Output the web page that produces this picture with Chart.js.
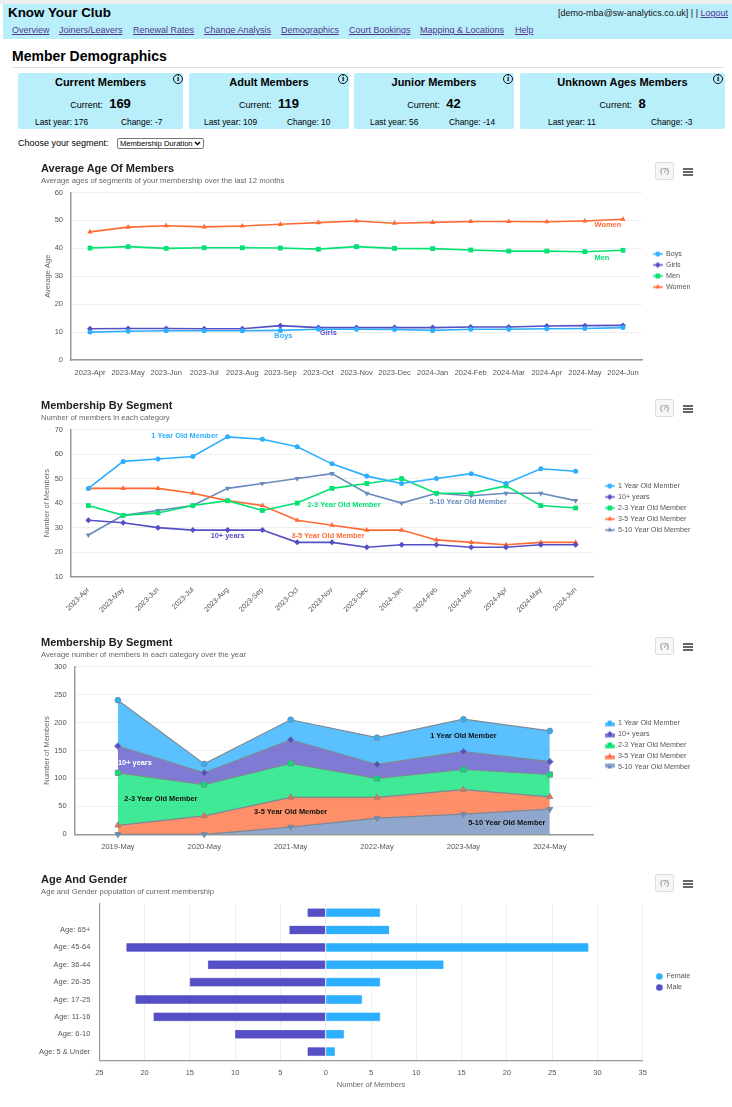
<!DOCTYPE html>
<html>
<head>
<meta charset="utf-8">
<title>Know Your Club</title>
<script src="https://cdn.jsdelivr.net/npm/chart.js@4/dist/chart.umd.js"></script>
<style>
  html, body { margin: 0; padding: 0; background: #fff; }
  body { position: relative; width: 732px; height: 1107px; overflow: hidden; font-family: "Liberation Sans", Arial, sans-serif; color: #000; }
  .abs { position: absolute; white-space: nowrap; line-height: 1; }
  .strip { position: absolute; left: 0; top: 0; width: 732px; height: 4px; background: #eeeeee; }
  .header { position: absolute; left: 3px; top: 4px; width: 729px; height: 35px; background: #b9eefb; }
  .nav { font-size: 9px; color: #52388f; text-decoration: underline; }
  .rule { position: absolute; left: 12px; top: 67px; width: 712px; height: 1px; background: #ddd; }
  .card { position: absolute; top: 73px; height: 56px; background: #b9eefb; border-radius: 2px; }
  .cardTitle { font-size: 11px; font-weight: bold; left: 0; right: 0; text-align: center; top: 4px; }
  .cardCur { font-size: 9px; left: 0; right: 0; text-align: center; top: 24px; }
  .cardCur b { font-size: 13px; margin-left: 4px; }
  .cardSmall { font-size: 8.4px; top: 45px; }
  .info { width: 8px; height: 8px; border: 1.2px solid #111; border-radius: 50%; font: bold 8px/8px "Liberation Serif", serif; text-align: center; }
  .chartTitle { font-size: 11px; font-weight: bold; color: #222; left: 41px; }
  .chartSub { font-size: 7.7px; color: #666; left: 41px; }
  .help { position: absolute; left: 655px; width: 17px; height: 16px; border: 1px solid #ddd; background: #f7f7f7; border-radius: 2px; font-size: 7.5px; line-height: 16px; text-align: center; color: #666; }
  .burger { position: absolute; left: 683px; width: 10px; height: 1.5px; background: #666; box-shadow: 0 3px 0 #666, 0 6px 0 #666; }
  .segment { left: 117px; top: 138px; width: 87px; height: 11px; box-sizing: border-box; font: 7.6px "Liberation Sans"; padding: 0 0 0 2px; border: 1px solid #777; border-radius: 2px; appearance: none; -webkit-appearance: none; background: #fff url("data:image/svg+xml,%3Csvg xmlns='http://www.w3.org/2000/svg' width='7' height='5'%3E%3Cpath d='M1 1l2.5 2.5L6 1' fill='none' stroke='%23000' stroke-width='1.4'/%3E%3C/svg%3E") no-repeat right 2px center; }
  canvas { position: absolute; }
</style>
</head>
<body>
<div class="strip"></div>
<div class="header"></div>
<div class="abs" style="left:8px;top:6px;font-size:13.4px;font-weight:bold">Know Your Club</div>
<div class="abs" style="right:4px;top:9px;font-size:9px;color:#111">[demo-mba@sw-analytics.co.uk] | | <span class="nav">Logout</span></div>
<div class="abs" style="left:12px;top:49px;font-size:14px;font-weight:bold">Member Demographics</div>
<div class="rule"></div>
<div class="abs" style="left:18px;top:139px;font-size:9px">Choose your segment:</div>
<select class="abs segment"><option>Membership Duration</option></select>

<canvas id="ageChart"></canvas>
<canvas id="segmentChart"></canvas>
<canvas id="yearChart"></canvas>
<canvas id="genderChart"></canvas>

<script>
// الألوان
const BLUE = '#2caffe', PURPLE = '#544fc5', GREEN = '#00e272', ORANGE = '#fe6a35', SLATE = '#6b8abc';

// بيانات متوسط العمر
const ageMonths = ['2023-Apr','2023-May','2023-Jun','2023-Jul','2023-Aug','2023-Sep','2023-Oct','2023-Nov','2023-Dec','2024-Jan','2024-Feb','2024-Mar','2024-Apr','2024-May','2024-Jun'];
const boysAge = [10, 10.3, 10.5, 10.5, 10.5, 10.6, 11, 11, 10.9, 10.6, 11, 11, 11.2, 11.3, 11.6];
const girlsAge = [11.2, 11.3, 11.3, 11.2, 11.2, 12.3, 11.6, 11.6, 11.6, 11.6, 11.8, 11.8, 12.2, 12.3, 12.4];
const menAge = [40.1, 40.6, 40, 40.2, 40.2, 40.1, 39.7, 40.6, 40, 39.9, 39.4, 39, 39, 38.8, 39.3];
const womenAge = [45.9, 47.6, 48.1, 47.7, 48, 48.6, 49.2, 49.8, 49, 49.3, 49.6, 49.6, 49.5, 49.8, 50.4];

// بيانات الأعضاء حسب الشريحة
const oneYear = [46, 57, 58, 59, 67, 66, 63, 56, 51, 48, 50, 52, 48, 54, 53];
const tenPlus = [33, 32, 30, 29, 29, 29, 24, 24, 22, 23, 23, 22, 22, 23, 23];
const twoToThree = [39, 35, 36, 39, 41, 37, 40, 46, 48, 50, 44, 44, 47, 39, 38];
const threeToFive = [46, 46, 46, 44, 41, 39, 33, 31, 29, 29, 25, 24, 23, 24, 24];
const fiveToTen = [27, 35, 37, 39, 46, 48, 50, 52, 44, 40, 44, 43, 44, 44, 41];

// بيانات المتوسط السنوي
const years = ['2019-May','2020-May','2021-May','2022-May','2023-May','2024-May'];
const oneYearAvg = [82, 16, 36, 48, 58, 55];
const tenPlusAvg = [48, 21, 42, 25, 32, 23];
const twoToThreeAvg = [94, 56, 61, 34, 36, 40];
const threeToFiveAvg = [16, 33, 53, 37, 44, 22];
const fiveToTenAvg = [0, 0, 13, 29, 36, 45];

// بيانات العمر والجنس
const ageGroups = ['', 'Age: 65+', 'Age: 45-64', 'Age: 36-44', 'Age: 26-35', 'Age: 17-25', 'Age: 11-16', 'Age: 6-10', 'Age: 5 & Under'];
const femaleCounts = [6, 7, 29, 13, 6, 4, 6, 2, 1];
const maleCounts = [-2, -4, -22, -13, -15, -21, -19, -10, -2];

// البطاقات
const cards = [
  { title: 'Current Members', cur: 169, last: 'Last year: 176', change: 'Change: -7', x: 18, w: 165, lastX: 17, changeX: 103, infoX: 155 },
  { title: 'Adult Members', cur: 119, last: 'Last year: 109', change: 'Change: 10', x: 189, w: 160, lastX: 15, changeX: 98, infoX: 149 },
  { title: 'Junior Members', cur: 42, last: 'Last year: 56', change: 'Change: -14', x: 354, w: 160, lastX: 16, changeX: 95, infoX: 149 },
  { title: 'Unknown Ages Members', cur: 8, last: 'Last year: 11', change: 'Change: -3', x: 520, w: 205, lastX: 28, changeX: 131, infoX: 193 }
];
cards.forEach(c => {
  const d = document.createElement('div');
  d.className = 'card';
  d.style.left = c.x + 'px';
  d.style.width = c.w + 'px';
  d.innerHTML = `<div class="abs cardTitle">${c.title}</div>
    <div class="abs cardCur">Current: <b>${c.cur}</b></div>
    <div class="abs cardSmall" style="left:${c.lastX}px">${c.last}</div>
    <div class="abs cardSmall" style="left:${c.changeX}px">${c.change}</div>
    <div class="abs info" style="left:${c.infoX}px;top:1px">i</div>`;
  document.body.appendChild(d);
});

// روابط القائمة
const navLinks = [['Overview', 12], ['Joiners/Leavers', 59], ['Renewal Rates', 133], ['Change Analysis', 204], ['Demographics', 281], ['Court Bookings', 349], ['Mapping & Locations', 420], ['Help', 515]];
navLinks.forEach(n => {
  const a = document.createElement('div');
  a.className = 'abs nav';
  a.style.left = n[1] + 'px';
  a.style.top = '26px';
  a.textContent = n[0];
  document.body.appendChild(a);
});

// عناوين المخططات والأزرار
function addHead(title, sub, titleY, helpY) {
  const t = document.createElement('div');
  t.className = 'abs chartTitle';
  t.style.top = (titleY - 5) + 'px';
  t.textContent = title;
  const s = document.createElement('div');
  s.className = 'abs chartSub';
  s.style.top = (titleY + 9) + 'px';
  s.textContent = sub;
  const h = document.createElement('div');
  h.className = 'help';
  h.style.top = helpY + 'px';
  h.textContent = '(?)';
  const b = document.createElement('div');
  b.className = 'burger';
  b.style.top = (helpY + 6) + 'px';
  [t, s, h, b].forEach(el => document.body.appendChild(el));
}
addHead('Average Age Of Members', 'Average ages of segments of your membership over the last 12 months', 168, 162);
addHead('Membership By Segment', 'Number of members in each category', 405, 399);
addHead('Membership By Segment', 'Average number of members in each category over the year', 642, 637);
addHead('Age And Gender', 'Age and Gender population of current membership', 879, 874);

// حجم العلامة حسب شكلها
function markerSize(style) {
  return { circle: 2.5, rectRot: 3, rect: 3.4, triangle: 3.1 }[style];
}

// أيقونة وسيلة الإيضاح
function legendIcon(color, style, rotation, area) {
  const c = document.createElement('canvas');
  c.width = 10;
  c.height = 9;
  const ctx = c.getContext('2d');
  if (area) {
    ctx.globalAlpha = 0.75;
    ctx.fillStyle = color;
    ctx.fillRect(0, 4, 10, 4);
    ctx.globalAlpha = 1;
  } else {
    ctx.strokeStyle = color;
    ctx.lineWidth = 1.4;
    ctx.beginPath();
    ctx.moveTo(0, 4.5);
    ctx.lineTo(10, 4.5);
    ctx.stroke();
  }
  ctx.fillStyle = color;
  ctx.strokeStyle = color;
  Chart.helpers.drawPoint(ctx, { pointStyle: style, radius: markerSize(style), borderWidth: 0, rotation: rotation || 0 }, 5, 4.5);
  return c;
}

// كتابة التسميات فوق السلاسل
const seriesLabels = {
  id: 'seriesLabels',
  afterDatasetsDraw(chart, args, opts) {
    const ctx = chart.ctx;
    ctx.save();
    ctx.font = 'bold 7.4px "Liberation Sans"';
    ctx.textAlign = 'center';
    ctx.textBaseline = 'middle';
    (opts.items || []).forEach(it => {
      const p = chart.getDatasetMeta(it.ds).data[it.i];
      ctx.fillStyle = it.color;
      ctx.fillText(it.text, p.x + it.dx, p.y + it.dy);
    });
    ctx.restore();
  }
};

// تثبيت عرض وسيلة الإيضاح وموضعها حتى تبقى منطقة الرسم في مكانها
const fixedLegend = {
  id: 'fixedLegend',
  beforeLayout(chart, args, opts) {
    const legend = chart.legend;
    if (!legend || legend._fixed) return;
    const fit = legend.fit.bind(legend);
    legend.fit = () => { fit(); legend.width = opts.width; };
    legend._fixed = true;
  },
  afterLayout(chart, args, opts) {
    const legend = chart.legend;
    legend.left += opts.dx;
    legend.right += opts.dx;
    legend.top -= opts.up;
    legend.bottom -= opts.up;
  }
};

const tickFont = { family: 'Liberation Sans', size: 7.5 };
const slantFont = { family: 'Liberation Sans', size: 7.2 };
const legendFont = { family: 'Liberation Sans', size: 7.2 };
const gridColor = '#efefef';
const axisColor = '#999999';

// إعدادات مشتركة: box هو موضع اللوحة و plot هو موضع منطقة الرسم في الصفحة
function baseOptions(box, plot, legendIcons, pointWidth, legendX, reverse) {
  const padTop = plot.top - box.top;
  return {
    responsive: false,
    animation: false,
    devicePixelRatio: 1,
    layout: { autoPadding: false, padding: { top: padTop, left: 0, right: 0, bottom: 0 } },
    plugins: {
      tooltip: { enabled: false },
      title: { display: false },
      fixedLegend: { width: box.left + box.width - plot.right, dx: legendX - plot.right - 3.5, up: padTop / 2 },
      legend: {
        position: 'right',
        reverse: !!reverse,
        labels: {
          usePointStyle: true,
          pointStyleWidth: pointWidth,
          font: legendFont,
          color: '#555',
          padding: 3.8,
          generateLabels(chart) {
            const items = Chart.defaults.plugins.legend.labels.generateLabels(chart);
            items.forEach((item, i) => { item.pointStyle = legendIcons[i]; });
            return items;
          }
        }
      }
    }
  };
}

function place(id, box) {
  const el = document.getElementById(id);
  el.style.left = box.left + 'px';
  el.style.top = box.top + 'px';
  el.width = box.width;
  el.height = box.height;
  return el;
}

function lineSet(label, data, color, style, rotation) {
  return { label, data, borderColor: color, backgroundColor: color, pointStyle: style, pointRotation: rotation || 0, pointRadius: markerSize(style), pointBorderWidth: 0, borderWidth: 1.6, tension: 0, clip: false };
}

function xAxis(box, plot, rotation, pad) {
  return {
    type: 'category',
    offset: true,
    afterFit(s) { s.height = box.top + box.height - plot.bottom; },
    grid: { display: false },
    border: { color: axisColor, width: 1.5 },
    ticks: { font: rotation ? slantFont : tickFont, color: '#555', padding: pad, autoSkip: false, minRotation: rotation, maxRotation: rotation }
  };
}

function yAxis(box, plot, min, max, step, title, titleX) {
  return {
    min, max,
    afterFit(s) { s.width = plot.left - box.left; },
    grid: { color: gridColor, drawTicks: false },
    border: { color: axisColor, width: 1.5 },
    ticks: { font: tickFont, color: '#555', stepSize: step, padding: 8 },
    title: { display: true, text: title, font: tickFont, color: '#666', padding: { top: titleX - box.left - 3.5, bottom: 0 } }
  };
}

// مخطط متوسط العمر
const ageBox = { left: 30, top: 155, width: 670, height: 231 };
const agePlot = { left: 71, top: 192.5, right: 642, bottom: 360 };
const ageIcons = [legendIcon(BLUE, 'circle'), legendIcon(PURPLE, 'rectRot'), legendIcon(GREEN, 'rect'), legendIcon(ORANGE, 'triangle')];
const ageOptions = baseOptions(ageBox, agePlot, ageIcons, 9, 653);
ageOptions.scales = { x: xAxis(ageBox, agePlot, 0, 0), y: yAxis(ageBox, agePlot, 0, 60, 10, 'Average Age', 46.7) };
ageOptions.plugins.seriesLabels = { items: [
  { ds: 0, i: 5, dx: 3, dy: 6, text: 'Boys', color: BLUE },
  { ds: 1, i: 6, dx: 10, dy: 5.5, text: 'Girls', color: PURPLE },
  { ds: 2, i: 13, dx: 17, dy: 6, text: 'Men', color: GREEN },
  { ds: 3, i: 13, dx: 23, dy: 4, text: 'Women', color: ORANGE }
] };
new Chart(place('ageChart', ageBox), {
  type: 'line',
  data: { labels: ageMonths, datasets: [
    lineSet('Boys', boysAge, BLUE, 'circle'),
    lineSet('Girls', girlsAge, PURPLE, 'rectRot'),
    lineSet('Men', menAge, GREEN, 'rect'),
    lineSet('Women', womenAge, ORANGE, 'triangle')
  ] },
  options: ageOptions,
  plugins: [seriesLabels, fixedLegend]
});

// مخطط الأعضاء حسب الشريحة
const segBox = { left: 30, top: 395, width: 670, height: 226 };
const segPlot = { left: 71, top: 429.5, right: 593, bottom: 576.7 };
const segIcons = [legendIcon(BLUE, 'circle'), legendIcon(PURPLE, 'rectRot'), legendIcon(GREEN, 'rect'), legendIcon(ORANGE, 'triangle'), legendIcon(SLATE, 'triangle', 180)];
const segOptions = baseOptions(segBox, segPlot, segIcons, 9, 605);
segOptions.scales = { x: xAxis(segBox, segPlot, 45, 1), y: yAxis(segBox, segPlot, 10, 70, 10, 'Number of Members', 46) };
segOptions.plugins.seriesLabels = { items: [
  { ds: 0, i: 4, dx: -43, dy: -1, text: '1 Year Old Member', color: BLUE },
  { ds: 1, i: 4, dx: 0, dy: 6, text: '10+ years', color: PURPLE },
  { ds: 2, i: 7, dx: 12, dy: 17, text: '2-3 Year Old Member', color: GREEN },
  { ds: 3, i: 7, dx: -4, dy: 10.7, text: '3-5 Year Old Member', color: ORANGE },
  { ds: 4, i: 11, dx: -3, dy: 6, text: '5-10 Year Old Member', color: SLATE }
] };
new Chart(place('segmentChart', segBox), {
  type: 'line',
  data: { labels: ageMonths, datasets: [
    lineSet('1 Year Old Member', oneYear, BLUE, 'circle'),
    lineSet('10+ years', tenPlus, PURPLE, 'rectRot'),
    lineSet('2-3 Year Old Member', twoToThree, GREEN, 'rect'),
    lineSet('3-5 Year Old Member', threeToFive, ORANGE, 'triangle'),
    lineSet('5-10 Year Old Member', fiveToTen, SLATE, 'triangle', 180)
  ] },
  options: segOptions,
  plugins: [seriesLabels, fixedLegend]
});

// المخطط المساحي المكدس
function areaSet(label, data, color, fillColor, style, rotation, fill) {
  return { label, data, fill, borderColor: '#7c8894', backgroundColor: fillColor, pointBackgroundColor: color, pointBorderColor: '#7c8894', pointBorderWidth: 0.8, pointStyle: style, pointRotation: rotation || 0, pointRadius: markerSize(style) + 0.4, borderWidth: 1.2, tension: 0, clip: false };
}
const yearBox = { left: 30, top: 630, width: 670, height: 230 };
const yearPlot = { left: 74.7, top: 666.7, right: 593, bottom: 834.3 };
const yearIcons = [legendIcon(SLATE, 'triangle', 180, true), legendIcon(ORANGE, 'triangle', 0, true), legendIcon(GREEN, 'rect', 0, true), legendIcon(PURPLE, 'rectRot', 0, true), legendIcon(BLUE, 'circle', 0, true)];
const yearOptions = baseOptions(yearBox, yearPlot, yearIcons, 9, 605, true);
yearOptions.scales = { x: xAxis(yearBox, yearPlot, 0, 0), y: yAxis(yearBox, yearPlot, 0, 300, 50, 'Number of Members', 46) };
yearOptions.scales.x.stacked = true;
yearOptions.scales.y.stacked = true;
yearOptions.plugins.seriesLabels = { items: [
  { ds: 3, i: 0, dx: 17, dy: 17, text: '10+ years', color: '#fff' },
  { ds: 2, i: 0, dx: 43, dy: 26, text: '2-3 Year Old Member', color: '#111' },
  { ds: 1, i: 2, dx: 0, dy: 15, text: '3-5 Year Old Member', color: '#111' },
  { ds: 4, i: 4, dx: 0, dy: 17, text: '1 Year Old Member', color: '#111' },
  { ds: 0, i: 5, dx: -43, dy: 14, text: '5-10 Year Old Member', color: '#111' }
] };
new Chart(place('yearChart', yearBox), {
  type: 'line',
  data: { labels: years, datasets: [
    areaSet('5-10 Year Old Member', fiveToTenAvg, SLATE, 'rgba(107,138,188,0.75)', 'triangle', 180, 'origin'),
    areaSet('3-5 Year Old Member', threeToFiveAvg, ORANGE, 'rgba(254,106,53,0.75)', 'triangle', 0, '-1'),
    areaSet('2-3 Year Old Member', twoToThreeAvg, GREEN, 'rgba(0,226,114,0.75)', 'rect', 0, '-1'),
    areaSet('10+ years', tenPlusAvg, PURPLE, 'rgba(84,79,197,0.75)', 'rectRot', 0, '-1'),
    areaSet('1 Year Old Member', oneYearAvg, BLUE, 'rgba(44,175,254,0.78)', 'circle', 0, '-1')
  ] },
  options: yearOptions,
  plugins: [seriesLabels, fixedLegend]
});

// مخطط العمر والجنس
function dotIcon(color) {
  const c = document.createElement('canvas');
  c.width = 7;
  c.height = 7;
  const ctx = c.getContext('2d');
  ctx.fillStyle = color;
  ctx.beginPath();
  ctx.arc(3.5, 3.5, 3.3, 0, Math.PI * 2);
  ctx.fill();
  return c;
}
const genderBox = { left: 30, top: 865, width: 670, height: 234 };
const genderPlot = { left: 99.3, top: 904, right: 642.7, bottom: 1060.3 };
const genderOptions = baseOptions(genderBox, genderPlot, [dotIcon(BLUE), dotIcon(PURPLE)], 7, 655.5);
genderOptions.indexAxis = 'y';
genderOptions.scales = {
  x: {
    min: -25, max: 35, stacked: true,
    afterFit(s) { s.height = genderBox.top + genderBox.height - genderPlot.bottom; },
    grid: { color: gridColor, drawTicks: false },
    border: { color: axisColor, width: 1.2 },
    ticks: { font: tickFont, color: '#555', stepSize: 5, padding: 8, callback: v => Math.abs(v) },
    title: { display: true, text: 'Number of Members', font: tickFont, color: '#666', padding: { top: 0, bottom: 10 } }
  },
  y: {
    type: 'category', stacked: true,
    afterFit(s) { s.width = genderPlot.left - genderBox.left; },
    grid: { display: false },
    border: { color: axisColor, width: 1.2 },
    ticks: { font: tickFont, color: '#555', padding: 1, autoSkip: false }
  }
};
new Chart(place('genderChart', genderBox), {
  type: 'bar',
  data: { labels: ageGroups, datasets: [
    { label: 'Female', data: femaleCounts, backgroundColor: BLUE, borderColor: '#7fd0ff', borderWidth: 0.6, borderRadius: 1, borderSkipped: false, barThickness: 8.4 },
    { label: 'Male', data: maleCounts, backgroundColor: PURPLE, borderColor: '#a09ce0', borderWidth: 0.6, borderRadius: 1, borderSkipped: false, barThickness: 8.4 }
  ] },
  options: genderOptions,
  plugins: [fixedLegend]
});
</script>
</body>
</html>
